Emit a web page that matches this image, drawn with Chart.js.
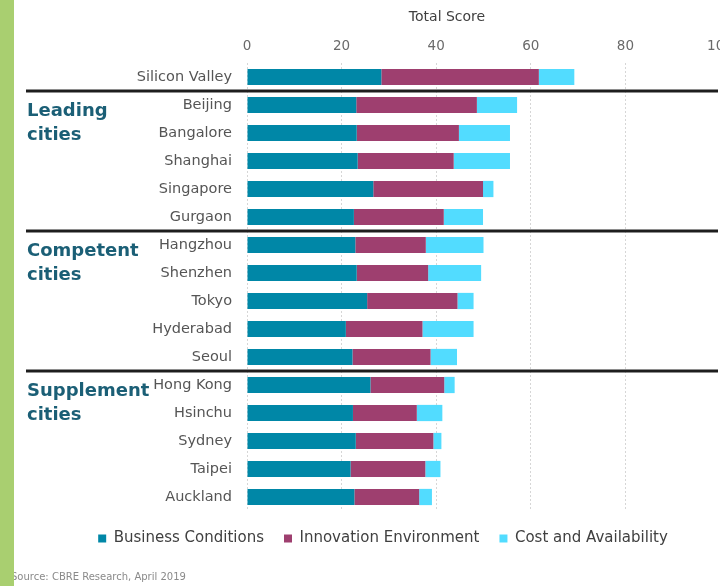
<!DOCTYPE html>
<html>
<head>
<meta charset="utf-8">
<script src="https://cdn.jsdelivr.net/npm/chart.js@4"></script>
<style>
  html, body { margin: 0; padding: 0; background: #fff; overflow: hidden; }
  body { width: 720px; height: 586px; position: relative; }
  #wrap { position: absolute; left: 0; top: 0; width: 760px; height: 586px; }
  #strip { position: absolute; left: 0; top: 0; width: 14px; height: 586px; background: #a9cf70; z-index: 2; }
  #source { position: absolute; left: 11px; top: 571px; font: 10px "DejaVu Sans", sans-serif; color: #8a8a8a; z-index: 1; }
</style>
</head>
<body>
<div id="wrap"><canvas id="myChart" width="760" height="586"></canvas></div>
<div id="source">Source: CBRE Research, April 2019</div>
<div id="strip"></div>
<script>
'use strict';

const cities = ['Silicon Valley', 'Beijing', 'Bangalore', 'Shanghai', 'Singapore', 'Gurgaon',
  'Hangzhou', 'Shenzhen', 'Tokyo', 'Hyderabad', 'Seoul',
  'Hong Kong', 'Hsinchu', 'Sydney', 'Taipei', 'Auckland'];
const businessConditions = [28.4, 23.1, 23.2, 23.4, 26.7, 22.6, 22.9, 23.2, 25.4, 20.9, 22.3, 26.1, 22.4, 23.0, 21.9, 22.7];
const innovationEnvironment = [33.3, 25.5, 21.6, 20.3, 23.2, 19.0, 14.9, 15.1, 19.1, 16.2, 16.5, 15.6, 13.5, 16.4, 15.8, 13.7];
const costAvailability = [7.5, 8.5, 10.8, 11.9, 2.2, 8.3, 12.2, 11.2, 3.4, 10.8, 5.6, 2.2, 5.4, 1.7, 3.2, 2.7];

// groups of cities, each starts at the city named here
const groupNames = ['Leading', 'Competent', 'Supplement'];
const groupStarts = ['Beijing', 'Hangzhou', 'Hong Kong'];
const axisTitle = 'Total Score';

const FONT = '"DejaVu Sans", sans-serif';
const PAD_LEFT = 46; // pushes the legend centre right, like the slide

// draws the thick separators, the group names on the left and the axis title
const groupPlugin = {
  id: 'groups',
  afterDraw(chart) {
    const ctx = chart.ctx;
    const y = chart.scales.y;
    const area = chart.chartArea;
    ctx.save();
    for (let i = 0; i < groupStarts.length; i++) {
      const idx = cities.indexOf(groupStarts[i]);
      const lineY = (y.getPixelForValue(idx - 1) + y.getPixelForValue(idx)) / 2;
      ctx.strokeStyle = '#1e1e1e';
      ctx.lineWidth = 3;
      ctx.beginPath();
      ctx.moveTo(26, lineY);
      ctx.lineTo(area.right - 2, lineY);
      ctx.stroke();

      const top = y.getPixelForValue(idx);
      ctx.fillStyle = '#1b5f76';
      ctx.font = 'bold 18px ' + FONT;
      ctx.textBaseline = 'middle';
      ctx.textAlign = 'left';
      ctx.fillText(groupNames[i], 27, top + 6);
      ctx.fillText('cities', 27, top + 30);
    }
    // title sits left of the plot centre, as in the original slide
    ctx.fillStyle = '#404040';
    ctx.font = '14px ' + FONT;
    ctx.textAlign = 'center';
    ctx.textBaseline = 'middle';
    ctx.fillText(axisTitle, area.left + 200, 17);
    ctx.restore();
  }
};

new Chart(document.getElementById('myChart'), {
  type: 'bar',
  data: {
    labels: cities,
    datasets: [{
      label: 'Business Conditions',
      data: businessConditions,
      backgroundColor: '#0087a7'
    }, {
      label: 'Innovation Environment',
      data: innovationEnvironment,
      backgroundColor: '#9e3f6f'
    }, {
      label: 'Cost and Availability',
      data: costAvailability,
      backgroundColor: '#52dcff'
    }]
  },
  options: {
    indexAxis: 'y',
    responsive: false,
    animation: false,
    barPercentage: 0.58,
    categoryPercentage: 1,
    layout: { padding: { left: PAD_LEFT, right: 40, top: 0, bottom: 30 } },
    plugins: {
      tooltip: { enabled: false },
      legend: {
        position: 'bottom',
        labels: {
          boxWidth: 8,
          boxHeight: 8,
          padding: 20,
          color: '#404040',
          font: { family: FONT, size: 15 }
        }
      }
    },
    scales: {
      x: {
        position: 'top',
        stacked: true,
        min: 0,
        max: 100,
        ticks: { stepSize: 20, color: '#6a6a6a', font: { family: FONT, size: 13.5 }, padding: 8 },
        grid: { color: '#d6d6d6', drawTicks: false },
        border: { display: false, dash: [2, 2] },
        afterFit(scale) { scale.height = 63; }
      },
      y: {
        stacked: true,
        ticks: { color: '#555555', font: { family: FONT, size: 14.5 }, padding: 15 },
        grid: { display: false, drawTicks: false },
        border: { display: false },
        afterFit(scale) { scale.width = 247 - PAD_LEFT; }
      }
    }
  },
  plugins: [groupPlugin]
});
</script>
</body>
</html>
